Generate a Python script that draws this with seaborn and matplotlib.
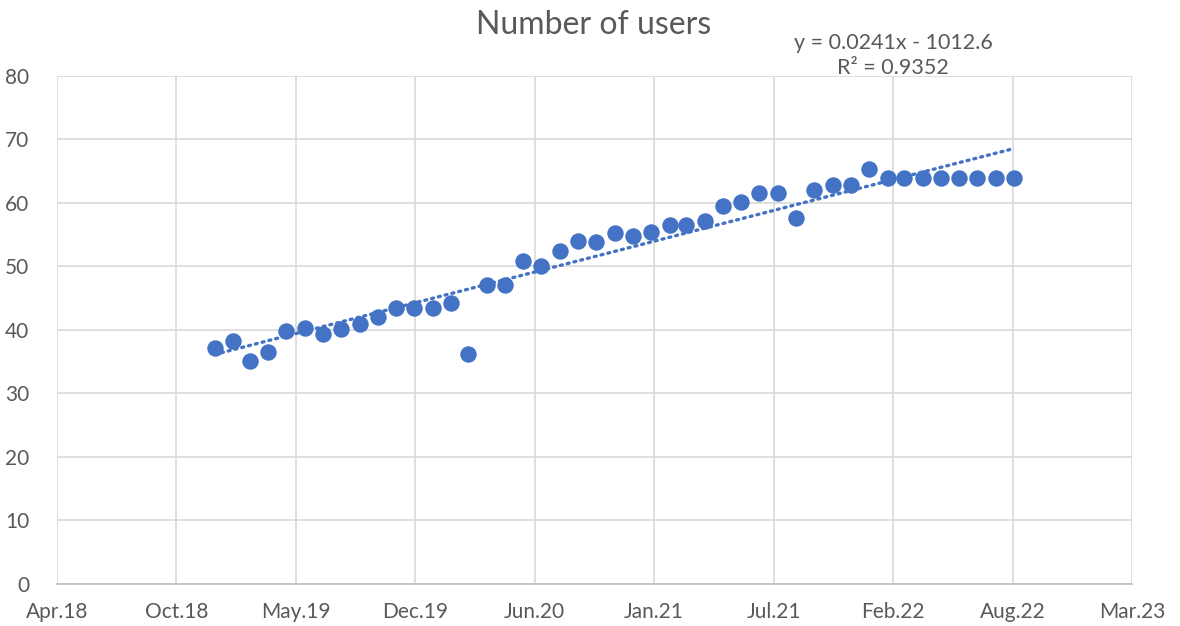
import numpy as np
import pandas as pd
import matplotlib
matplotlib.use('Agg')
import matplotlib.pyplot as plt
import matplotlib.dates as mdates
import seaborn as sns

# monthly values, Dec 2018 .. Aug 2022 (month end)
months = pd.date_range('2018-12-31', '2022-08-31', freq='ME')
users = [37.2, 38.2, 35.1, 36.5, 39.8, 40.3, 39.4, 40.1, 40.9, 42.0,
         43.5, 43.4, 43.5, 44.2, 36.2, 47.1, 47.1, 50.9, 50.0, 52.5,
         54.0, 53.8, 55.3, 54.8, 55.5, 56.5, 56.5, 57.1, 59.6, 60.2,
         61.5, 61.5, 57.7, 62.0, 62.8, 62.8, 65.4, 64.0, 63.9, 63.9,
         63.9, 63.9, 63.9, 63.9, 63.9]
tick_labels = ['Apr.18', 'Oct.18', 'May.19', 'Dec.19', 'Jun.20',
               'Jan.21', 'Jul.21', 'Feb.22', 'Aug.22', 'Mar.23']
y_ticks = [0, 10, 20, 30, 40, 50, 60, 70, 80]
equation = 'y = 0.0241x - 1012.6'
r_squared = 'R² = 0.9352'

df = pd.DataFrame({'date': mdates.date2num(months), 'users': users})

# excel date axis: start 2018-04-11, major unit 200 days
tick_pos = mdates.date2num(pd.Timestamp('2018-04-11')) + 200 * np.arange(len(tick_labels))

sns.set_theme(style='whitegrid')
plt.rcParams['font.family'] = ['Lato', 'DejaVu Sans']
text_col = '#595959'
blue = '#4472C4'

fig = plt.figure(figsize=(11.8, 6.26), dpi=100)
ax = fig.add_axes([0.0483, 0.0671, 0.911, 0.8115])

sns.scatterplot(data=df, x='date', y='users', ax=ax, color=blue, s=140,
                linewidth=0, zorder=3)
sns.regplot(data=df, x='date', y='users', ax=ax, scatter=False, ci=None,
            color=blue, line_kws={'linestyle': (0, (0.6, 1.5)), 'linewidth': 2.4,
                                  'dash_capstyle': 'round', 'zorder': 2})

ax.set_xlim(tick_pos[0], tick_pos[-1])
ax.set_ylim(0, 80)
ax.set_xticks(tick_pos)
ax.set_xticklabels(tick_labels)
ax.set_yticks(y_ticks)
ax.set_xlabel('')
ax.set_ylabel('')
ax.tick_params(axis='both', colors=text_col, labelsize=15, length=0)
ax.tick_params(axis='x', pad=13)
ax.tick_params(axis='y', pad=20)
ax.grid(True, color='#d9d9d9', linewidth=1.2)
for s in ['top', 'right', 'left']:
    ax.spines[s].set_visible(False)
ax.spines['bottom'].set_color('#bfbfbf')
ax.spines['bottom'].set_linewidth(1.2)

fig.text(0.503, 0.960, 'Number of users', ha='center', va='center',
         fontsize=23, color=text_col)
fig.text(0.757, 0.932, equation, ha='center', va='center', fontsize=15.5, color=text_col)
fig.text(0.757, 0.892, r_squared, ha='center', va='center', fontsize=15.5, color=text_col)

plt.savefig('out.png', dpi=100)
